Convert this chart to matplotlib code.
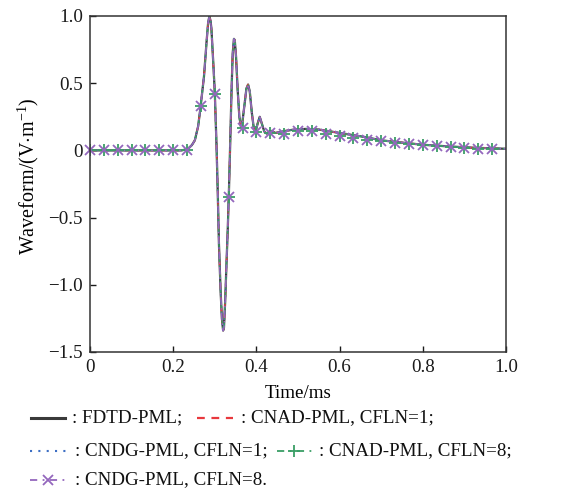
import matplotlib
matplotlib.use("Agg")
import matplotlib.pyplot as plt
from matplotlib.lines import Line2D

plt.rcParams['font.family'] = ['Liberation Serif', 'DejaVu Serif']
plt.rcParams['mathtext.fontset'] = 'custom'
plt.rcParams['mathtext.rm'] = 'Liberation Serif'
plt.rcParams['mathtext.it'] = 'Liberation Serif:italic'
plt.rcParams['axes.unicode_minus'] = True

# waveform (Time/ms, V/m)
t_ms = [0.0, 0.22, 0.235, 0.245, 0.252, 0.26, 0.266, 0.274, 0.28, 0.284, 0.287, 0.290,
        0.292, 0.296, 0.300, 0.304, 0.307, 0.310, 0.314, 0.317, 0.320, 0.322, 0.325,
        0.328, 0.331, 0.334, 0.337, 0.340, 0.343, 0.346, 0.348, 0.351, 0.355, 0.359,
        0.363, 0.366, 0.371, 0.376, 0.380, 0.384, 0.389, 0.394, 0.398, 0.403, 0.408,
        0.413, 0.419, 0.425, 0.431, 0.437, 0.445, 0.455, 0.47, 0.49, 0.52, 0.55, 0.58,
        0.62, 0.66, 0.70, 0.75, 0.80, 0.86, 0.92, 1.0]
wave = [0.0, 0.0, 0.01, 0.04, 0.075, 0.18, 0.33, 0.55, 0.8, 0.95, 1.0, 0.96,
        0.9, 0.67, 0.43, 0.05, -0.3, -0.7, -1.05, -1.25, -1.34, -1.32, -1.12,
        -0.85, -0.6, -0.3, 0.05, 0.42, 0.72, 0.83, 0.82, 0.7, 0.45, 0.25,
        0.175, 0.2, 0.33, 0.46, 0.49, 0.44, 0.28, 0.16, 0.14, 0.2, 0.25,
        0.2, 0.14, 0.125, 0.14, 0.145, 0.13, 0.135, 0.145, 0.155, 0.16, 0.155, 0.14,
        0.12, 0.1, 0.075, 0.058, 0.042, 0.03, 0.02, 0.012]

# coarse samples (CFLN=8) shown as markers
mk_t = [k / 30 for k in range(30)]
mk_v = [0, 0, 0, 0, 0, 0, 0, 0, 0.33, 0.42, -0.35, 0.17, 0.137, 0.132, 0.125,
        0.145, 0.142, 0.125, 0.107, 0.092, 0.08, 0.07, 0.058, 0.045, 0.037,
        0.032, 0.025, 0.02, 0.013, 0.008]

c_fdtd = '#3a3a3a'
c_cnad1 = '#e8383d'
c_cndg1 = '#3d6fc4'
c_cnad8 = '#3a9e66'
c_cndg8 = '#9467bd'

FS = 13.7
W, H = 577, 491
fig = plt.figure(figsize=(W / 100, H / 100), dpi=100)
ax = fig.add_axes([90 / W, 1 - 352 / H, (506 - 90) / W, (352 - 16) / H])

ax.plot(t_ms, wave, color=c_fdtd, lw=1.6, ls='-')
ax.plot(t_ms, wave, color=c_cnad1, lw=1.2, ls=(0, (4, 3)))
ax.plot(t_ms, wave, color=c_cndg1, lw=1.2, ls=(0, (1, 2.5)))
ax.plot(t_ms, wave, color=c_cnad8, lw=1.1, ls=(0, (5, 2, 1, 2)))
ax.plot(t_ms, wave, color=c_cndg8, lw=1.1, ls=(2, (5, 2, 1, 2)))
ax.plot(mk_t, mk_v, ls='none', marker='+', ms=9, mew=1.3, color=c_cnad8)
ax.plot(mk_t, mk_v, ls='none', marker='x', ms=7.5, mew=1.3, color=c_cndg8, clip_on=False)

ax.set_xlim(0, 1.0)
ax.set_ylim(-1.5, 1.0)
ax.set_xticks([0, 0.2, 0.4, 0.6, 0.8, 1.0])
ax.set_xticklabels(['0', '0.2', '0.4', '0.6', '0.8', '1.0'])
ax.set_yticks([-1.5, -1.0, -0.5, 0, 0.5, 1.0])
ax.set_yticklabels(['\u22121.5', '\u22121.0', '\u22120.5', '0', '0.5', '1.0'])
ax.tick_params(direction='in', length=4, width=1, labelsize=FS, pad=5, colors='#1a1a1a')
for s in ax.spines.values():
    s.set_linewidth(1.1)
    s.set_color('#333333')

fig.text(298 / W, 1 - 393 / H, 'Time/ms', ha='center', va='center', fontsize=FS)
fig.text(28 / W, 1 - 176 / H, 'Waveform/(V$\\cdot$m$^{-1}$)', ha='center', va='center',
         rotation=90, fontsize=14.5)


def handle(x0, x1, y, **kw):
    fig.add_artist(Line2D([x0 / W, x1 / W], [1 - y / H, 1 - y / H], transform=fig.transFigure, **kw))


def mark(x, y, **kw):
    fig.add_artist(Line2D([x / W], [1 - y / H], transform=fig.transFigure, ls='none', **kw))


def label(x, y, s):
    fig.text(x / W, 1 - y / H, s, ha='left', va='center', fontsize=FS, color='#111111')


handle(31, 65, 418, color=c_fdtd, lw=2.2)
label(72, 418, ': FDTD-PML;')
handle(197, 233, 418, color=c_cnad1, lw=1.6, ls=(0, (3.5, 3)))
label(241, 418, ': CNAD-PML, CFLN=1;')

handle(30, 66, 451, color=c_cndg1, lw=1.5, ls=(0, (1, 3)))
label(75, 451, ': CNDG-PML, CFLN=1;')
handle(277, 312, 451, color=c_cnad8, lw=1.3, ls=(0, (4, 3, 1, 3)))
mark(294, 451, marker='+', ms=9, mew=1.3, color=c_cnad8)
label(319, 451, ': CNAD-PML, CFLN=8;')

handle(30, 66, 480, color=c_cndg8, lw=1.3, ls=(0, (4, 3, 1, 3)))
mark(48, 480, marker='x', ms=7, mew=1.3, color=c_cndg8)
label(75, 480, ': CNDG-PML, CFLN=8.')

fig.savefig('out.png', dpi=100)
